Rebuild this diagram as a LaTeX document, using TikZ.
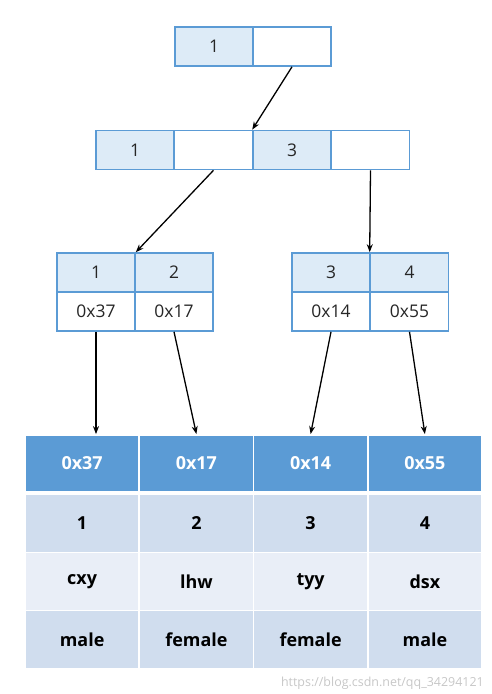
\documentclass[tikz,border=0pt]{standalone}
\usepackage{fontspec}
\setmainfont{Open Sans}
\usetikzlibrary{arrows.meta}
\definecolor{bblue}{HTML}{5B9BD5}
\definecolor{kfill}{HTML}{DDEBF7}
\definecolor{rowA}{HTML}{D0DDEE}
\definecolor{rowB}{HTML}{E9EEF7}
\tikzset{
  kcell/.style={draw=bblue, fill=kfill, line width=1.6bp, minimum width=78bp, minimum height=39bp, inner sep=0pt, text=black!85, font=\fontsize{17.5}{20}\selectfont},
  pcell/.style={kcell, fill=white},
  tcell/.style={draw=white, line width=1.8bp, minimum width=114.25bp, minimum height=58bp, inner sep=0pt, font=\bfseries\fontsize{18}{20}\selectfont},
  thead/.style={tcell, fill=bblue, text=white, minimum height=57bp},
  trowA/.style={tcell, fill=rowA},
  trowB/.style={tcell, fill=rowB},
  arr/.style={line width=1.3bp, -{Stealth[length=8bp,width=6bp]}}
}
\begin{document}
\begin{tikzpicture}[x=1bp,y=-1bp]
\useasboundingbox (0,0) rectangle (492,694);
% root
\node[kcell] (k0) at (214,46.5) {1};
\node[pcell] (p0) at (292,46.5) {};
% level 2
\node[kcell] (a1) at (135,150) {1};
\node[pcell] (a2) at (213.5,150) {};
\node[kcell] (a3) at (292,150) {3};
\node[pcell] (a4) at (370.5,150) {};
% leaves
\node[kcell] (b1) at (96,272.5) {1};
\node[kcell] (b2) at (174,272.5) {2};
\node[pcell] (c1) at (96,311.5) {0x37};
\node[pcell] (c2) at (174,311.5) {0x17};
\node[kcell] (b3) at (331,272.5) {3};
\node[kcell] (b4) at (409.5,272.5) {4};
\node[pcell] (c3) at (331,311.5) {0x14};
\node[pcell] (c4) at (409.5,311.5) {0x55};
% table
\node[thead] (t1) at (82.1,463.5) {0x37};
\node[thead] (t2) at (196.4,463.5) {0x17};
\node[thead] (t3) at (310.6,463.5) {0x14};
\node[thead] (t4) at (424.9,463.5) {0x55};
\node[trowA] (r1) at (82.1,523.5) {1};
\node[trowA] (r2) at (196.4,523.5) {2};
\node[trowA] (r3) at (310.6,523.5) {3};
\node[trowA] (r4) at (424.9,523.5) {4};
\node[trowB] (n1) at (82.1,581.5) {cxy};
\node[trowB] (n2) at (196.4,581.5) {lhw};
\node[trowB] (n3) at (310.6,581.5) {tyy};
\node[trowB] (n4) at (424.9,581.5) {dsx};
\node[trowA] (s1) at (82.1,639.5) {male};
\node[trowA] (s2) at (196.4,639.5) {female};
\node[trowA] (s3) at (310.6,639.5) {female};
\node[trowA] (s4) at (424.9,639.5) {male};
% arrows
\draw[arr] (p0.south) -- (a3.north west);
\draw[arr] (a2.south) -- (b1.north east);
\draw[arr] (a4.south) -- (b4.north west);
\draw[arr] (c1.south) -- (c1.south |- t1.north);
\draw[arr] (c2.south) -- (t2.north);
\draw[arr] (c3.south) -- (t3.north);
\draw[arr] (c4.south) -- (t4.north);
% watermark
\node[anchor=south east, inner sep=0pt, text=black!22, font=\fontsize{12.5}{13}\selectfont] (wm) at (484,690) {https://blog.csdn.net/qq\_34294121};
\end{tikzpicture}
\end{document}
